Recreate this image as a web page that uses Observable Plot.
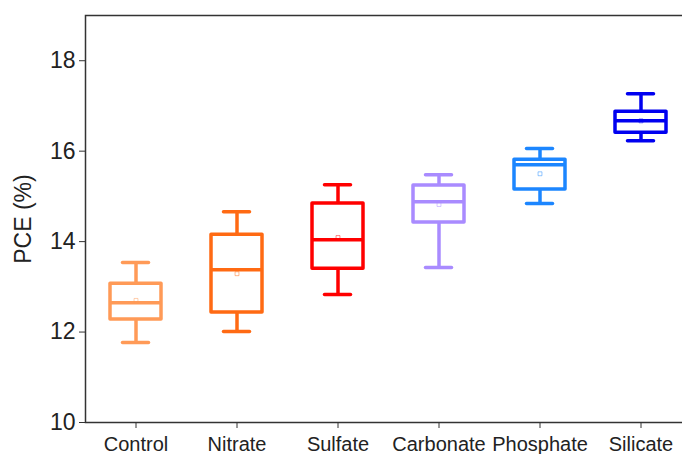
<!DOCTYPE html>
<html>
<head>
<meta charset="utf-8">
<script src="https://cdn.jsdelivr.net/npm/d3@7"></script>
<script src="https://cdn.jsdelivr.net/npm/@observablehq/plot@0.6"></script>
<style>
  html, body { margin: 0; padding: 0; background: #fff; overflow: hidden; }
  #chart svg { display: block; font-family: Arial, "Liberation Sans", sans-serif; }
</style>
</head>
<body>
<div id="chart"></div>
<script>
const categories = ["Control", "Nitrate", "Sulfate", "Carbonate", "Phosphate", "Silicate"];
const whiskerLow  = [11.77, 12.01, 12.83, 13.43, 14.84, 16.23];
const q1          = [12.28, 12.43, 13.40, 14.42, 15.15, 16.41];
const median      = [12.65, 13.38, 14.04, 14.88, 15.70, 16.67];
const q3          = [13.07, 14.15, 14.84, 15.24, 15.81, 16.87];
const whiskerHigh = [13.54, 14.66, 15.26, 15.48, 16.06, 17.27];
const mean        = [12.70, 13.29, 14.09, 14.82, 15.50, 16.67];
const colors      = ["#ff9a57", "#ff6a13", "#ff0000", "#a98bff", "#1c86ff", "#0000f0"];
const yTicks      = [10, 12, 14, 16, 18];

const data = categories.map((c, i) => ({
  cat: c, lo: whiskerLow[i], q1: q1[i], med: median[i], q3: q3[i], hi: whiskerHigh[i], mean: mean[i]
}));

const sw = 3.5;
const chart = Plot.plot({
  width: 682,
  height: 454,
  marginLeft: 85,
  marginTop: 15,
  marginBottom: 32,
  marginRight: -10,
  style: { fontFamily: "Arial, 'Liberation Sans', sans-serif", color: "#222", background: "#fff" },
  x: { domain: categories, range: [85, 691], padding: 0, label: null },
  y: { domain: [10, 19], label: null },
  color: { domain: categories, range: colors },
  marks: [
    Plot.frame({ stroke: "#333", strokeWidth: 1.5 }),
    Plot.axisY({ ticks: yTicks, tickSize: 6, tickPadding: 4, fontSize: 23, label: "PCE (%)", labelAnchor: "center", labelOffset: 71, labelArrow: "none", stroke: "#333" }),
    Plot.axisX({ tickSize: 6, tickPadding: 8, fontSize: 20, label: null, stroke: "#333" }),
    Plot.ruleX(data, { x: "cat", y1: "q3", y2: "hi", stroke: "cat", strokeWidth: sw }),
    Plot.ruleX(data, { x: "cat", y1: "lo", y2: "q1", stroke: "cat", strokeWidth: sw }),
    Plot.tickY(data, { x: "cat", y: "hi", stroke: "cat", strokeWidth: sw, strokeLinecap: "round", insetLeft: 37.5, insetRight: 37.5 }),
    Plot.tickY(data, { x: "cat", y: "lo", stroke: "cat", strokeWidth: sw, strokeLinecap: "round", insetLeft: 37.5, insetRight: 37.5 }),
    Plot.barY(data, { x: "cat", y1: "q1", y2: "q3", fill: "white", stroke: "cat", strokeWidth: sw, strokeLinejoin: "round", insetLeft: 25, insetRight: 25 }),
    Plot.tickY(data, { x: "cat", y: "med", stroke: "cat", strokeWidth: sw, insetLeft: 25, insetRight: 25 }),
    Plot.dot(data, { x: "cat", y: "mean", symbol: "square", r: 2.2, stroke: "cat", strokeWidth: 0.8, strokeOpacity: 0.6, fill: "none" })
  ]
});
document.getElementById("chart").append(chart);
</script>
</body>
</html>
